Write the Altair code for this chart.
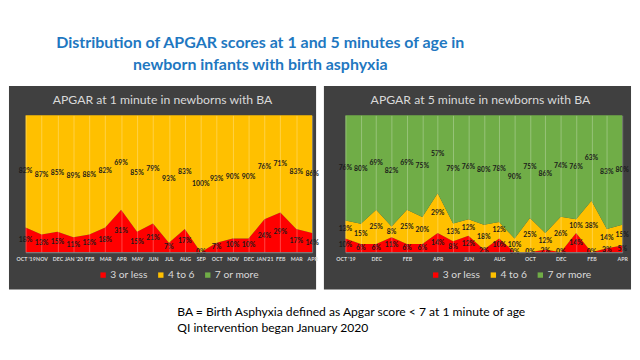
import json
import altair as alt
import pandas as pd

# ---------------- data ----------------
labels_left = ["OCT '19", "NOV", "DEC", "JAN '20", "FEB", "MAR", "APR", "MAY", "JUN", "JUL",
               "AUG", "SEP", "OCT", "NOV", "DEC", "JAN'21", "FEB", "MAR", "APR"]
labels_right = ["OCT '19", "NOV", "DEC", "JAN", "FEB", "MAR", "APR", "MAY", "JUN", "JUL",
                "AUG", "SEP", "OCT", "NOV", "DEC", "JAN", "FEB", "MAR", "APR"]
series = ["3 or less", "4 to 6", "7 or more"]
colors = ["#FF0000", "#FFC000", "#70AD47"]

# APGAR at 1 minute (%)
m1_low = [18, 13, 15, 11, 13, 18, 31, 15, 21, 7, 17, 0, 7, 10, 10, 24, 29, 17, 14]
m1_mid = [82, 87, 85, 89, 88, 82, 69, 85, 79, 93, 83, 100, 93, 90, 90, 76, 71, 83, 86]

# APGAR at 5 minutes (%)
m5_low = [10, 6, 6, 11, 6, 6, 14, 8, 12, 2, 10, 0, 0, 2, 0, 14, 0, 3, 5]
m5_mid = [13, 15, 25, 8, 25, 20, 29, 13, 12, 18, 12, 10, 25, 12, 26, 10, 38, 14, 15]
m5_high = [76, 80, 69, 82, 69, 75, 57, 79, 76, 80, 78, 90, 75, 86, 74, 76, 63, 83, 80]

main_title = ["Distribution of APGAR scores at 1 and 5 minutes of age in",
              "newborn infants with birth asphyxia"]
panel_titles = ["APGAR at 1 minute in newborns with BA", "APGAR at 5 minute in newborns with BA"]
footnote = ["BA = Birth Asphyxia defined as Apgar score < 7 at 1 minute of age",
            "QI intervention began January 2020"]

FONT = "Lato"
LIGHT = "#D9D9D9"
PANEL_BG = "#404040"


def long_df(cols):
    rows = []
    for order, (name, vals) in enumerate(cols):
        for i, v in enumerate(vals):
            rows.append({"i": i, "series": name, "order": order, "value": v})
    return pd.DataFrame(rows)


df1 = long_df([(series[0], m1_low), (series[1], m1_mid)])
df5 = long_df([(series[0], m5_low), (series[1], m5_mid), (series[2], m5_high)])


def panel(df, labels, title, show_y, every, width, height, rect_l, rect_r, title_x, legend_x):
    arr = "[" + ",".join(json.dumps(l) for l in labels) + "]"
    if every == 1:
        lab_expr = arr + "[datum.value]"
    else:
        lab_expr = "(datum.value % 2 == 0) ? " + arr + "[datum.value] : ''"

    x_axis = alt.Axis(values=list(range(len(labels))), labelExpr=lab_expr, grid=True,
                      gridColor="#FFFFFF", gridOpacity=0.35, gridWidth=0.8, ticks=False,
                      domain=True, domainColor="#8C8C8C", labelColor=LIGHT, labelFont=FONT,
                      labelFontWeight="bold", labelFontSize=5.4, labelPadding=4, labelAngle=0,
                      labelOverlap=False, labelFlush=False, title=None, zindex=1)
    if show_y:
        y_axis = alt.Axis(values=[k / 10 for k in range(11)], format=".0%", grid=False,
                          ticks=False, domain=False, labelColor=LIGHT, labelFont=FONT,
                          labelFontWeight="bold", labelFontSize=5.5, labelPadding=3, title=None)
    else:
        y_axis = None

    xs = alt.Scale(domain=[0, len(labels) - 1], nice=False, zero=False)
    ys = alt.Scale(domain=[0, 1], nice=False)

    base = (alt.Chart(df)
            .transform_stack(stack="value", groupby=["i"], as_=["y0", "y1"], offset="normalize",
                             sort=[alt.SortField("order")])
            .transform_calculate(mid="(datum.y0 + datum.y1) / 2", lab="datum.value + '%'"))

    area = base.mark_area(interpolate="linear").encode(
        x=alt.X("i:Q", scale=xs, axis=x_axis),
        y=alt.Y("y0:Q", scale=ys, axis=y_axis),
        y2="y1:Q",
        color=alt.Color("series:N", scale=alt.Scale(domain=series, range=colors),
                        legend=alt.Legend(orient="none", legendX=legend_x, legendY=158,
                                          direction="horizontal", title=None, symbolType="square",
                                          symbolSize=30, symbolStrokeWidth=0, labelColor=LIGHT,
                                          labelFont=FONT, labelFontSize=10.5, columnPadding=8,
                                          labelOffset=2)),
        order=alt.Order("order:Q"),
    )
    text = base.mark_text(font=FONT, fontWeight="bold", fontSize=7, color="#1A1A1A").encode(
        x=alt.X("i:Q", scale=xs, axis=x_axis),
        y=alt.Y("mid:Q", scale=ys, axis=y_axis),
        text="lab:N",
    )
    tdf = pd.DataFrame({"t": [title]})
    bg = alt.Chart(tdf).mark_rect(color=PANEL_BG).encode(
        x=alt.value(rect_l), x2=alt.value(rect_r), y=alt.value(-30), y2=alt.value(178))
    ttl = alt.Chart(tdf).mark_text(font=FONT, fontSize=12.5, color=LIGHT, baseline="middle").encode(
        x=alt.value(title_x), y=alt.value(-16), text="t:N")
    return alt.layer(bg, area, text, ttl).properties(width=width, height=height)


left = panel(df1, labels_left, panel_titles[0], True, 1, 293, 140, -17, 297, 140, 74)
right = panel(df5, labels_right, panel_titles[1], False, 2, 283, 140, -22, 292, 138, 87)

row = alt.hconcat(left, right, spacing=3).resolve_scale(color="independent").resolve_legend(
    color="independent")

foot = alt.Chart(pd.DataFrame({"t": ["\n".join(footnote)]})).mark_text(
    font=FONT, fontSize=12.4, color="#000000", align="left", baseline="top",
    lineBreak="\n", lineHeight=17).encode(x=alt.value(155), y=alt.value(0), text="t:N"
).properties(width=10, height=20)

chart = alt.vconcat(row, foot, spacing=15).properties(
    title=alt.TitleParams(text=main_title, font=FONT, fontSize=16.3, fontWeight="bold",
                          color="#1F78C1", anchor="middle", dx=-61, offset=12, lineHeight=23),
    padding={"left": 0, "top": 24, "right": 0, "bottom": 0},
    background="white",
).configure_view(stroke="transparent")

chart.save("out.html", embed_options={"renderer": "svg", "actions": False})
